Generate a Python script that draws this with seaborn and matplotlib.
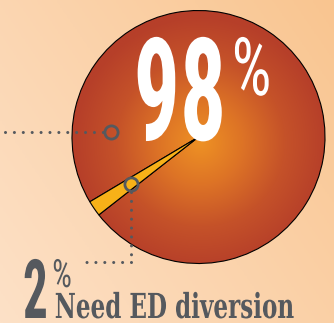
import matplotlib
matplotlib.use("Agg")
import matplotlib.pyplot as plt
import numpy as np
import seaborn as sns
from matplotlib.colors import LinearSegmentedColormap
from matplotlib.patheffects import AbstractPathEffect
from matplotlib.transforms import Affine2D

# data
shares = [98, 2]
big_label = "98"
small_label = "2"
pct = "%"
caption = "Need ED diversion"

gray = "#55595e"
yellow = "#f7b118"


# squeezes the glyphs horizontally about their middle (the poster uses a very condensed face)
class Squeeze(AbstractPathEffect):
    def __init__(self, sx):
        super().__init__()
        self.sx = sx

    def draw_path(self, renderer, gc, tpath, affine, rgbFace=None):
        ext = tpath.get_extents()
        xc = (ext.x0 + ext.x1) / 2
        squeeze = Affine2D().translate(-xc, 0).scale(self.sx, 1).translate(xc, 0)
        renderer.draw_path(gc, tpath, squeeze + affine, rgbFace)


sns.set_theme(style="white")

W, H = 334, 323
fig = plt.figure(figsize=(W / 100, H / 100), dpi=100)
ax = fig.add_axes([0, 0, 1, 1])

# pie: centre/radius in pixel units, y measured from the bottom
cx, cy, r = 198.5, H - 137, 126.5
wedges, _ = ax.pie(shares, startangle=218, center=(cx, cy), radius=r,
                   colors=["none", yellow], frame=True,
                   wedgeprops=dict(edgecolor="black", linewidth=0.8))
ax.set_xlim(0, W)
ax.set_ylim(0, H)
ax.set_aspect("auto")
ax.axis("off")

# background: soft diagonal peach gradient
bg_cmap = LinearSegmentedColormap.from_list("bg", ["#fde1c7", "#f9c590"])
gx, gy = np.meshgrid(np.linspace(0, 1, 200), np.linspace(0, 1, 200))
ax.imshow(0.6 * gx + 0.4 * gy, cmap=bg_cmap, extent=(0, W, H, 0),
          origin="upper", zorder=0, aspect="auto")

# radial gradient inside the big slice
pie_cmap = LinearSegmentedColormap.from_list("pie", ["#ee9124", "#dd7326", "#c55229", "#b63f29"])
px, py = np.meshgrid(np.linspace(cx - r, cx + r, 300), np.linspace(cy - r, cy + r, 300))
dist = np.hypot(px - (cx + 2), py - (cy - 6)) / r
im = ax.imshow(np.clip(dist, 0, 1), cmap=pie_cmap, extent=(cx - r, cx + r, cy - r, cy + r),
               origin="lower", zorder=1, aspect="auto")
im.set_clip_path(wedges[0])
wedges[0].set_zorder(2)
wedges[1].set_zorder(3)

# leader lines (dotted) and ring markers
dots = dict(color=gray, lw=2.2, ls=(0, (0.01, 2.9)), dash_capstyle="round", zorder=4)
ax.plot([5, 104], [H - 131.5, H - 131.5], **dots)
ax.plot([131, 131], [H - 192, H - 262], **dots)
ax.plot([131, 82], [H - 262, H - 262], **dots)
ring = dict(marker="o", ms=9.5, mfc="none", mec=gray, mew=2, zorder=5)
ax.plot([111], [H - 131.5], **ring)
ax.plot([131], [H - 184], **ring)

# labels
big = dict(fontfamily="Roboto Condensed", ha="center", va="baseline", zorder=6)
ax.text(180, H - 140, big_label, color="white", fontsize=103, fontweight="bold",
        path_effects=[Squeeze(0.64)], **big)
ax.text(251.5, H - 95, pct, color="white", fontsize=58, fontweight="normal",
        path_effects=[Squeeze(0.78)], **big)
ax.text(35.5, H - 318, small_label, color=gray, fontsize=59, fontweight="bold",
        path_effects=[Squeeze(0.6)], **big)
ax.text(62, H - 287, pct, color=gray, fontsize=28, fontweight="normal",
        path_effects=[Squeeze(0.8)], **big)
ax.text(174.5, H - 318, caption, color=gray, fontsize=24.8, fontfamily="DejaVu Serif",
        fontstretch="condensed", fontweight="bold", ha="center", va="baseline", zorder=6,
        path_effects=[Squeeze(0.745)])

fig.savefig("out.png", dpi=100)
